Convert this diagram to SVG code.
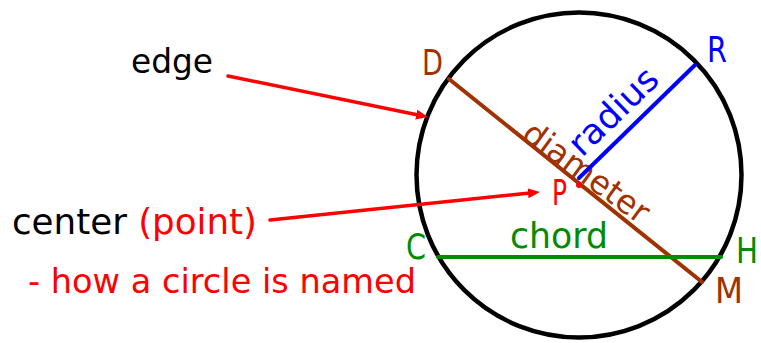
<svg xmlns="http://www.w3.org/2000/svg" width="761" height="343" viewBox="0 0 761 343">
  <style>
    text { font-family: "DejaVu Sans", "Liberation Sans", sans-serif; }
    .blk { fill: #000000; }
    .red { fill: #FF0000; }
    .blu { fill: #0000FF; }
    .grn { fill: #008C00; }
    .brn { fill: #A03200; }
    .lbl { font-size: 35px; }
    .arrow { stroke: #FF0000; stroke-width: 3.5; stroke-linecap: round; fill: none; marker-end: url(#ah); }
  </style>
  <defs>
    <marker id="ah" markerUnits="userSpaceOnUse" markerWidth="14" markerHeight="12" refX="2" refY="5" orient="auto">
      <path d="M0,0 L12,5 L0,10 z" fill="#FF0000"/>
    </marker>
  </defs>
  <rect width="761" height="343" fill="#FFFFFF"/>

  <g id="circle">
    <circle cx="579" cy="175" r="162.5" fill="none" stroke="#000000" stroke-width="4.5"/>
  </g>
  <g id="diameter">
    <line x1="449" y1="79" x2="702" y2="282" stroke="#A03200" stroke-width="4" stroke-linecap="round"/>
    <text class="brn" font-size="33" textLength="148" lengthAdjust="spacingAndGlyphs" transform="translate(520,138) rotate(36)">diameter</text>
  </g>
  <g id="radius">
    <line x1="579" y1="178" x2="695" y2="65" stroke="#0000FF" stroke-width="4" stroke-linecap="round"/>
    <text class="blu" font-size="35" textLength="110" lengthAdjust="spacingAndGlyphs" transform="translate(582,158) rotate(-44)">radius</text>
  </g>
  <g id="chord">
    <line x1="438" y1="257" x2="721" y2="257" stroke="#008C00" stroke-width="4" stroke-linecap="round"/>
    <text class="grn" x="510" y="248" font-size="35" textLength="98" lengthAdjust="spacingAndGlyphs">chord</text>
  </g>
  <g id="center-point">
    <circle cx="579" cy="185" r="3" fill="#FF0000"/>
  </g>

  <g id="label-D"><text class="brn lbl" x="422" y="75" textLength="21" lengthAdjust="spacingAndGlyphs">D</text></g>
  <g id="label-R"><text class="blu lbl" x="707" y="62" textLength="20" lengthAdjust="spacingAndGlyphs">R</text></g>
  <g id="label-P"><text class="red lbl" x="552" y="205" textLength="15" lengthAdjust="spacingAndGlyphs">P</text></g>
  <g id="label-C"><text class="grn lbl" x="406" y="259" textLength="20" lengthAdjust="spacingAndGlyphs">C</text></g>
  <g id="label-H"><text class="grn lbl" x="736" y="263" textLength="22" lengthAdjust="spacingAndGlyphs">H</text></g>
  <g id="label-M"><text class="brn lbl" x="715" y="303" textLength="28" lengthAdjust="spacingAndGlyphs">M</text></g>

  <g id="edge-label">
    <text class="blk" x="131" y="73" font-size="33" textLength="82" lengthAdjust="spacingAndGlyphs">edge</text>
  </g>
  <g id="center-label">
    <text x="12" y="234" font-size="35" textLength="245" lengthAdjust="spacingAndGlyphs"><tspan class="blk">center </tspan><tspan class="red">(point)</tspan></text>
  </g>
  <g id="naming-note">
    <text class="red" x="28" y="293" font-size="33" textLength="388" lengthAdjust="spacingAndGlyphs">- how a circle is named</text>
  </g>

  <g id="connectors">
    <line class="arrow" x1="228" y1="76" x2="418.2" y2="115"/>
    <line class="arrow" x1="270" y1="220" x2="530" y2="193"/>
  </g>
</svg>
